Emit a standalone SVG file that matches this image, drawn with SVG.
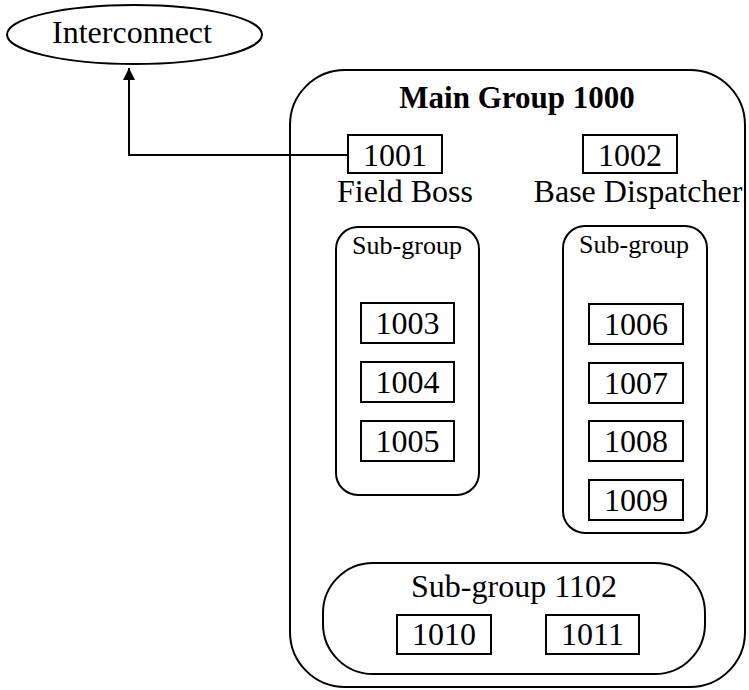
<svg xmlns="http://www.w3.org/2000/svg" width="749" height="690" viewBox="0 0 749 690">
  <defs>
    <marker id="arrow" viewBox="0 0 12 12" markerWidth="12" markerHeight="12" refX="12" refY="6" orient="auto" markerUnits="userSpaceOnUse">
      <path d="M0,0 L12,6 L0,12 Z" fill="#000"/>
    </marker>
  </defs>
  <style>
    text { font-family: "Liberation Serif", "Times New Roman", serif; fill: #000; text-anchor: middle; }
    .lbl { font-size: 32px; }
    .small { font-size: 26px; }
    .title { font-size: 31px; font-weight: bold; }
    .box { fill: #fff; stroke: #000; stroke-width: 2; }
    .group { fill: #fff; stroke: #000; stroke-width: 2; }
    .edge { fill: none; stroke: #000; stroke-width: 2; }
  </style>
  <rect width="749" height="690" fill="#fff"/>

  <!-- main group container -->
  <g id="main-group-1000">
    <rect class="group" x="290" y="70" width="455" height="617" rx="55" ry="55"/>
    <text class="title" x="517" y="108">Main Group 1000</text>
  </g>

  <g id="subgroup-left">
    <rect class="group" x="336" y="227" width="143" height="268" rx="22" ry="22"/>
    <text class="small" x="407" y="254">Sub-group</text>
  </g>

  <g id="subgroup-right">
    <rect class="group" x="563" y="226" width="144" height="307" rx="22" ry="22"/>
    <text class="small" x="634" y="253">Sub-group</text>
  </g>

  <g id="subgroup-1102">
    <rect class="group" x="323" y="563" width="382" height="111" rx="50" ry="50"/>
    <text class="lbl" x="514" y="597">Sub-group 1102</text>
  </g>

  <!-- connectors -->
  <g id="connectors">
    <path class="edge" d="M348,155 L129,155 L129,68" marker-end="url(#arrow)"/>
  </g>

  <g id="interconnect">
    <ellipse class="box" cx="134.5" cy="34.5" rx="127.5" ry="29.5"/>
    <text class="lbl" x="132" y="43">Interconnect</text>
  </g>

  <g id="node-1001">
    <rect class="box" x="348" y="135" width="94" height="38"/>
    <text class="lbl" x="395" y="166">1001</text>
    <text class="lbl" x="405" y="202">Field Boss</text>
  </g>

  <g id="node-1002">
    <rect class="box" x="583" y="135" width="94" height="38"/>
    <text class="lbl" x="630" y="166">1002</text>
    <text class="lbl" x="638" y="202">Base Dispatcher</text>
  </g>

  <g id="node-1003">
    <rect class="box" x="361" y="303" width="93" height="40"/>
    <text class="lbl" x="407.5" y="334">1003</text>
  </g>
  <g id="node-1004">
    <rect class="box" x="361" y="362" width="93" height="40"/>
    <text class="lbl" x="407.5" y="393">1004</text>
  </g>
  <g id="node-1005">
    <rect class="box" x="361" y="421" width="93" height="40"/>
    <text class="lbl" x="407.5" y="452">1005</text>
  </g>

  <g id="node-1006">
    <rect class="box" x="589" y="304" width="94" height="40"/>
    <text class="lbl" x="636" y="335">1006</text>
  </g>
  <g id="node-1007">
    <rect class="box" x="589" y="363" width="94" height="40"/>
    <text class="lbl" x="636" y="394">1007</text>
  </g>
  <g id="node-1008">
    <rect class="box" x="589" y="421" width="94" height="40"/>
    <text class="lbl" x="636" y="452">1008</text>
  </g>
  <g id="node-1009">
    <rect class="box" x="589" y="480" width="94" height="40"/>
    <text class="lbl" x="636" y="511">1009</text>
  </g>

  <g id="node-1010">
    <rect class="box" x="397" y="615" width="94" height="39"/>
    <text class="lbl" x="444" y="645">1010</text>
  </g>
  <g id="node-1011">
    <rect class="box" x="546" y="615" width="93" height="39"/>
    <text class="lbl" x="592.5" y="645">1011</text>
  </g>
</svg>
